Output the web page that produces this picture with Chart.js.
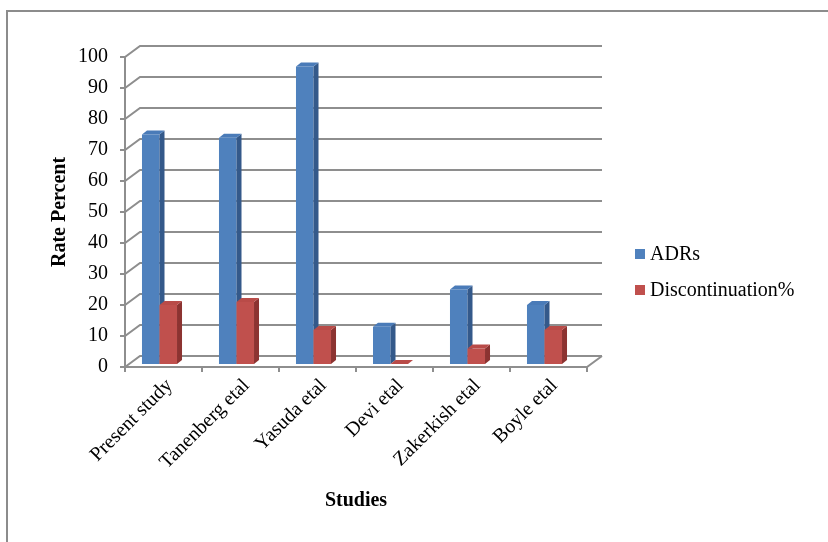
<!DOCTYPE html>
<html>
<head>
<meta charset="utf-8">
<script src="https://cdn.jsdelivr.net/npm/chart.js@4.4.1/dist/chart.umd.min.js"></script>
<style>
  html, body { margin: 0; padding: 0; background: #ffffff; }
  #wrap { width: 828px; height: 542px; }
</style>
</head>
<body>
<div id="wrap"><canvas id="chart" width="828" height="542"></canvas></div>
<script>
// Studies compared and the two rates reported for each
const studies = ['Present study', 'Tanenberg etal', 'Yasuda etal', 'Devi etal', 'Zakerkish etal', 'Boyle etal'];
const adrs = [74, 73, 96, 12, 24, 19];
const discontinuation = [19, 20, 11, 0, 5, 11];
const seriesNames = ['ADRs', 'Discontinuation%'];
const yMin = 0, yMax = 100, yStep = 10;

// Colours of the three visible faces of each column
const faceColours = [
  { front: '#4f81bd', side: '#34598a', top: '#4a7bb8' },
  { front: '#c0504d', side: '#8c3331', top: '#b94b48' }
];

const SERIF = "'Liberation Serif', 'Times New Roman', serif";
const GRID = '#8e8e8e';
const WALL_DX = 15, WALL_DY = -11;   // depth of the back wall
const COL_SHIFT_X = -4, COL_SHIFT_Y = -3; // columns stand a little behind the front edge
const COL_DX = 5, COL_DY = -4;       // depth of each column

function drawFrame(ctx) {
  ctx.save();
  ctx.strokeStyle = '#8c8c8c';
  ctx.lineWidth = 2;
  ctx.beginPath();
  ctx.moveTo(7, 542);
  ctx.lineTo(7, 11);
  ctx.lineTo(828, 11);
  ctx.stroke();
  ctx.restore();
}

const threeD = {
  id: 'threeD',
  beforeDraw(chart) {
    drawFrame(chart.ctx);
  },
  beforeDatasetsDraw(chart) {
    const { ctx, chartArea: a, scales: { x, y } } = chart;
    // walls and floor
    ctx.save();
    ctx.strokeStyle = GRID;
    ctx.lineWidth = 2;
    ctx.beginPath();
    y.ticks.forEach(t => {
      const py = Math.round(y.getPixelForValue(t.value));
      ctx.moveTo(a.left - 5, py);
      ctx.lineTo(a.left, py);
      ctx.lineTo(a.left + WALL_DX, py + WALL_DY);
      ctx.lineTo(a.right + WALL_DX, py + WALL_DY);
    });
    ctx.moveTo(a.left, a.top);
    ctx.lineTo(a.left, a.bottom);
    ctx.moveTo(a.left, a.bottom);
    ctx.lineTo(a.right, a.bottom);
    ctx.lineTo(a.right + WALL_DX, a.bottom + WALL_DY);
    for (let i = 0; i <= x.ticks.length; i++) {
      const px = Math.round(x.getPixelForValue(i - 0.5));
      ctx.moveTo(px, a.bottom);
      ctx.lineTo(px, a.bottom + 5);
    }
    ctx.stroke();
    ctx.restore();

    // columns: front face from the bar element, then its side and top
    ctx.save();
    ctx.translate(COL_SHIFT_X, COL_SHIFT_Y);
    chart.data.datasets.forEach((ds, di) => {
      const meta = chart.getDatasetMeta(di);
      const c = faceColours[di];
      meta.data.forEach(el => {
        const { x: cx, y: top, base, width } = el.getProps(['x', 'y', 'base', 'width'], true);
        const l = cx - width / 2, r = cx + width / 2;
        el.draw(ctx);
        ctx.fillStyle = c.side;
        ctx.beginPath();
        ctx.moveTo(r, top);
        ctx.lineTo(r + COL_DX, top + COL_DY);
        ctx.lineTo(r + COL_DX, base + COL_DY);
        ctx.lineTo(r, base);
        ctx.closePath();
        ctx.fill();
        ctx.fillStyle = c.top;
        ctx.beginPath();
        ctx.moveTo(l, top);
        ctx.lineTo(l + COL_DX, top + COL_DY);
        ctx.lineTo(r + COL_DX, top + COL_DY);
        ctx.lineTo(r, top);
        ctx.closePath();
        ctx.fill();
      });
    });
    ctx.restore();
    return false;
  },
  afterDraw(chart) {
    // legend on the right
    const ctx = chart.ctx;
    ctx.save();
    ctx.font = '20px ' + SERIF;
    ctx.textBaseline = 'middle';
    ctx.textAlign = 'left';
    const rows = [254, 290];
    chart.data.datasets.forEach((ds, i) => {
      ctx.fillStyle = ds.backgroundColor;
      ctx.fillRect(635, rows[i] - 5, 10, 10);
      ctx.fillStyle = '#000000';
      ctx.fillText(ds.label, 650, rows[i] + 1);
    });
    ctx.restore();
  }
};

new Chart(document.getElementById('chart'), {
  type: 'bar',
  data: {
    labels: studies,
    datasets: [
      { label: seriesNames[0], data: adrs, backgroundColor: faceColours[0].front, borderWidth: 0 },
      { label: seriesNames[1], data: discontinuation, backgroundColor: faceColours[1].front, borderWidth: 0 }
    ]
  },
  options: {
    responsive: false,
    animation: false,
    devicePixelRatio: 1,
    layout: { padding: { left: 0, top: 57, right: 241, bottom: 0 } },
    datasets: { bar: { categoryPercentage: 0.455, barPercentage: 1.0 } },
    plugins: { legend: { display: false }, tooltip: { enabled: false } },
    scales: {
      x: {
        grid: { display: false, drawTicks: false },
        border: { display: false },
        ticks: {
          autoSkip: false,
          minRotation: 45,
          maxRotation: 45,
          padding: 7,
          labelOffset: 6,
          color: '#000000',
          font: { family: SERIF, size: 20 }
        },
        title: {
          display: true,
          text: 'Studies',
          color: '#000000',
          font: { family: SERIF, size: 20, weight: 'bold' },
          padding: { top: 0, bottom: 29 }
        },
        afterFit(scale) { scale.height = 175; }
      },
      y: {
        min: yMin,
        max: yMax,
        grid: { display: false, drawTicks: false },
        border: { display: false },
        ticks: {
          stepSize: yStep,
          padding: 17,
          color: '#000000',
          font: { family: SERIF, size: 20 }
        },
        title: {
          display: true,
          text: 'Rate Percent',
          color: '#000000',
          font: { family: SERIF, size: 20, weight: 'bold' },
          padding: { top: 48, bottom: 0 }
        },
        afterFit(scale) { scale.width = 125; }
      }
    }
  },
  plugins: [threeD]
});
</script>
</body>
</html>
